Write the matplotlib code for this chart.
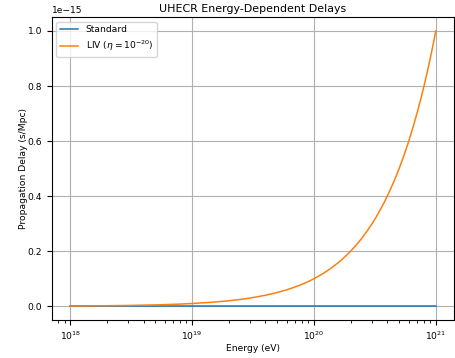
import numpy as np
import matplotlib
matplotlib.use("Agg")
import matplotlib.pyplot as plt

plt.rcParams['font.size'] = 6.6

# Energi (eV) dan delay yang dibaca dari gambar (satuan 1e-15 s/Mpc)
energy = [1e18, 2e18, 3e18, 5e18, 7e18,
          1e19, 1.5e19, 2e19, 2.5e19, 3e19, 4e19, 5e19, 6e19, 7e19, 8e19, 9e19,
          1e20, 1.2e20, 1.4e20, 1.6e20, 1.8e20, 2e20, 2.25e20, 2.5e20, 2.75e20,
          3e20, 3.25e20, 3.5e20, 3.75e20, 4e20, 4.5e20, 5e20,
          5.5e20, 6e20, 6.5e20, 7e20, 7.5e20, 8e20, 8.5e20, 9e20, 9.5e20, 1e21]
delay_liv = [0.001, 0.002, 0.003, 0.005, 0.007,
             0.010, 0.015, 0.020, 0.025, 0.030, 0.040, 0.050, 0.060, 0.070, 0.080, 0.090,
             0.100, 0.120, 0.140, 0.160, 0.180, 0.200, 0.225, 0.250, 0.275,
             0.300, 0.325, 0.350, 0.375, 0.400, 0.450, 0.500,
             0.550, 0.600, 0.650, 0.700, 0.750, 0.800, 0.850, 0.900, 0.950, 1.000]
delay_std = [0.0] * len(energy)

energy = np.array(energy)
delay_liv = np.array(delay_liv) * 1e-15
delay_std = np.array(delay_std)

fig = plt.figure(figsize=(4.55, 3.58), dpi=100)
ax = fig.add_axes([0.114, 0.106, 0.884, 0.846])

ax.plot(energy, delay_std, label='Standard', lw=1.1)
ax.plot(energy, delay_liv, label=r'LIV ($\eta=10^{-20}$)', lw=1.1)
ax.set_xscale('log')
ax.set_xlabel('Energy (eV)', labelpad=1)
ax.set_ylabel('Propagation Delay (s/Mpc)', labelpad=0)
ax.set_title('UHECR Energy-Dependent Delays', fontsize=7.9, pad=4)
ax.grid(True)
ax.legend(loc='upper left')

fig.savefig('out.png', dpi=100)
